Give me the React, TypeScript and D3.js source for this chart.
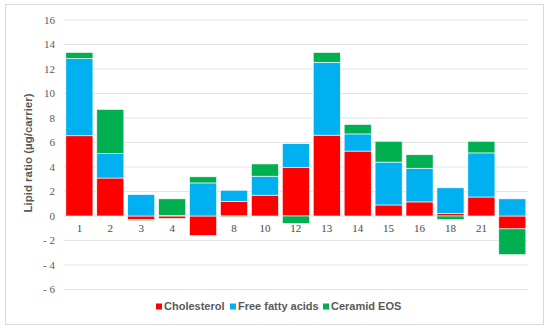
import React from 'react';
import * as d3 from 'd3';

// samples along the x axis
const categories = ['1', '2', '3', '4', '5', '8', '10', '12', '13', '14', '15', '16', '18', '21', '22'];

// stacked series (µg/carrier)
const cholesterol = [6.55, 3.1, -0.3, -0.2, -1.6, 1.2, 1.7, 3.95, 6.6, 5.3, 0.9, 1.15, 0.2, 1.55, -1.05];
const freeFattyAcids = [6.3, 2.0, 1.75, 0.05, 2.7, 0.9, 1.55, 1.95, 5.95, 1.4, 3.5, 2.75, 2.1, 3.6, 1.4];
const ceramidEOS = [0.5, 3.6, -0.08, 1.35, 0.5, -0.08, 1.0, -0.6, 0.8, 0.77, 1.7, 1.1, -0.3, 0.95, -2.1];

const seriesNames = ['Cholesterol', 'Free fatty acids', 'Ceramid EOS'];
const seriesColors = ['#FF0000', '#00B0F0', '#00B050'];
const yTicks = [16, 14, 12, 10, 8, 6, 4, 2, 0, -2, -4, -6];

const W = 550;
const H = 332;

export default function App() {
  const rows = categories.map((c, i) => ({
    cat: c,
    [seriesNames[0]]: cholesterol[i],
    [seriesNames[1]]: freeFattyAcids[i],
    [seriesNames[2]]: ceramidEOS[i],
  }));

  const stacked = d3.stack<any>()
    .keys(seriesNames)
    .offset(d3.stackOffsetDiverging)(rows);

  const x = d3.scaleBand()
    .domain(categories)
    .range([64, 527.7])
    .paddingInner(0.125)
    .paddingOuter(0.06);

  const y = d3.scaleLinear()
    .domain([-6, 16])
    .range([289.5, 20]);

  const fmt = (v: number) => (v < 0 ? '- ' + Math.abs(v) : String(v));
  const legendX = [156, 230, 323];

  const catLabels = (opacity: number) => (
    <g fontFamily="'Liberation Serif', 'Times New Roman', serif" fontSize={11} fill="#595959" fillOpacity={opacity}>
      {categories.map(c => (
        <text key={c} x={x(c)! + x.bandwidth() / 2} y={y(0) + 12} dy="0.35em" textAnchor="middle">{c}</text>
      ))}
    </g>
  );

  return (
    <div style={{ position: 'absolute', left: 0, top: 0 }}>
      <svg width={W} height={H} style={{ display: 'block', background: '#fff' }}>
        <rect x={5.5} y={4.5} width={538} height={320} fill="#fff" stroke="#d9d9d9" />

        {/* gridlines */}
        <g>
          {yTicks.map(t => (
            <line key={t} x1={64} x2={527.7} y1={y(t)} y2={y(t)} stroke="#e4e4e4" strokeWidth={1} />
          ))}
        </g>

        {/* y tick labels */}
        <g fontFamily="'Liberation Serif', 'Times New Roman', serif" fontSize={11} fill="#595959">
          {yTicks.map(t => (
            <text key={t} x={55} y={y(t)} dy="0.35em" textAnchor="end">{fmt(t)}</text>
          ))}
        </g>

        {catLabels(1)}

        {/* bars */}
        {stacked.map((s, si) => (
          <g key={s.key} fill={seriesColors[si]}>
            {s.map((d, i) => {
              const top = y(Math.max(d[0], d[1]));
              const bot = y(Math.min(d[0], d[1]));
              return (
                <rect key={i} x={x(categories[i])} y={top} width={x.bandwidth()}
                  height={Math.max(0, bot - top)} stroke="#fff" strokeWidth={0.6} />
              );
            })}
          </g>
        ))}

        {/* labels show faintly through the negative bars */}
        {catLabels(0.3)}

        {/* y axis title */}
        <text transform={`translate(32,153) rotate(-90)`} textAnchor="middle"
          fontFamily="'Liberation Sans', Arial, sans-serif" fontWeight="bold" fontSize={11.5} fill="#595959">
          Lipid ratio (µg/carrier)
        </text>

        {/* legend */}
        <g fontFamily="'Liberation Sans', Arial, sans-serif" fontWeight="bold" fontSize={11} fill="#595959">
          {seriesNames.map((n, i) => (
            <g key={n}>
              <rect x={legendX[i]} y={303.5} width={6} height={6} fill={seriesColors[i]} />
              <text x={legendX[i] + 8} y={306.5} dy="0.35em">{n}</text>
            </g>
          ))}
        </g>
      </svg>
    </div>
  );
}
